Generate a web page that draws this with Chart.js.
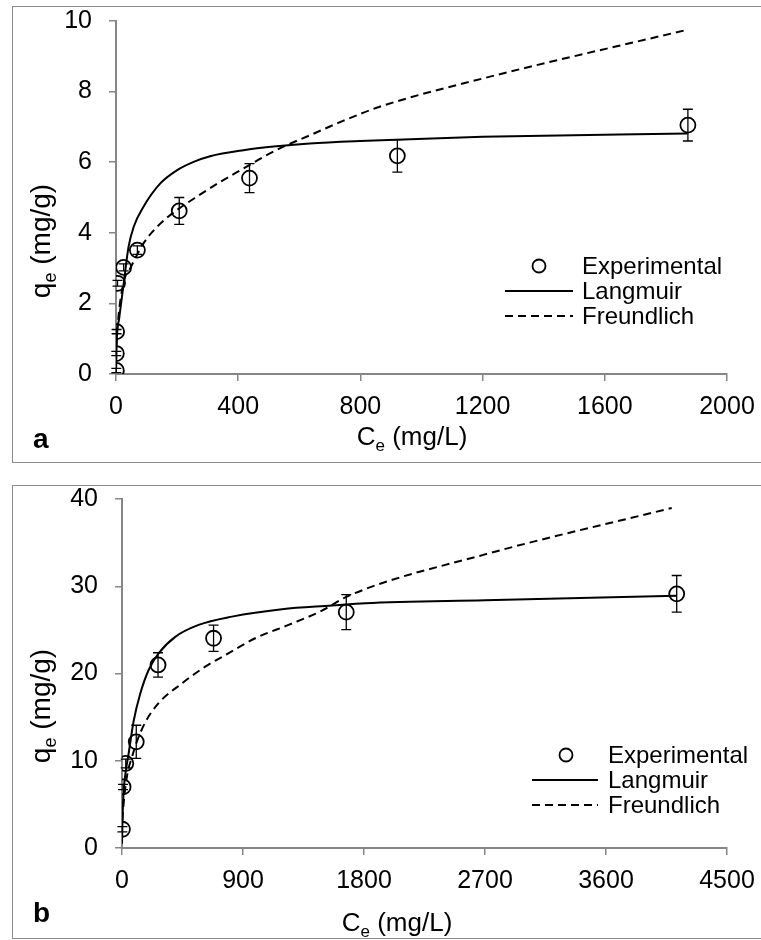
<!DOCTYPE html>
<html><head><meta charset="utf-8">
<script src="https://cdn.jsdelivr.net/npm/chart.js@4/dist/chart.umd.min.js"></script>
<style>
html,body{margin:0;padding:0;background:#fff;width:761px;height:940px;overflow:hidden;}
.wrap{position:absolute;left:0;width:761px;height:470px;}
.box{position:absolute;border:1.5px solid #8c8c8c;box-sizing:border-box;pointer-events:none;}
</style></head><body>
<div class="wrap" style="top:0"><canvas id="ca"></canvas></div>
<div class="wrap" style="top:470px"><canvas id="cb"></canvas></div>
<div class="box" style="left:12px;top:6px;width:752px;height:457px"></div>
<div class="box" style="left:12px;top:485px;width:752px;height:454px"></div>
<script>
// ---------- data ----------
const seriesNames = ['Experimental', 'Langmuir', 'Freundlich'];

// panel a
const xTicksA = [0, 400, 800, 1200, 1600, 2000];
const yTicksA = [0, 2, 4, 6, 8, 10];
const expA_C   = [1, 1, 2, 5, 25, 70, 207, 437, 921, 1872];
const expA_q   = [0.1, 0.58, 1.2, 2.57, 3.02, 3.51, 4.62, 5.55, 6.18, 7.05];
const expA_err = [0.06, 0.06, 0.06, 0.08, 0.1, 0.12, 0.38, 0.41, 0.46, 0.45];
const langA_C  = [0.3, 3, 10, 25, 41, 58, 90, 145, 199, 254, 308, 417, 526, 634, 798, 1200, 1870];
const langA_q  = [0.15, 1.06, 1.55, 2.55, 3.6, 4.17, 4.74, 5.4, 5.77, 6.01, 6.17, 6.34, 6.45, 6.53, 6.6, 6.72, 6.81];
const freA_C   = [1, 5, 25, 47, 90, 145, 199, 264, 341, 417, 493, 558, 634, 743, 863, 1200, 1864];
const freA_q   = [0.8, 1.35, 2.6, 3.0, 3.7, 4.26, 4.64, 5.02, 5.44, 5.82, 6.2, 6.48, 6.76, 7.17, 7.57, 8.37, 9.74];

// panel b
const xTicksB = [0, 900, 1800, 2700, 3600, 4500];
const yTicksB = [0, 10, 20, 30, 40];
const expB_C   = [3, 8, 28, 106, 268, 681, 1668, 4126];
const expB_q   = [2.15, 7.0, 9.69, 12.17, 20.98, 24.04, 27.03, 29.13];
const expB_err = [0.3, 0.3, 0.5, 1.9, 1.4, 1.5, 2.0, 2.1];
const langB_C  = [0, 5, 15, 30, 49, 86, 136, 198, 272, 396, 570, 818, 1190, 1561, 1809, 2700, 4126];
const langB_q  = [0.5, 4.0, 7.0, 9.0, 10.8, 14.5, 17.7, 20.4, 22.3, 24.2, 25.57, 26.52, 27.37, 27.79, 28.06, 28.4, 28.9];
const freB_C   = [3, 12, 40, 74, 106, 173, 272, 446, 619, 768, 991, 1239, 1487, 1685, 2688, 4089];
const freB_q   = [3.2, 5.1, 8.5, 10.4, 12.0, 14.4, 16.6, 18.87, 20.78, 22.1, 24.04, 25.57, 27.2, 28.9, 33.6, 38.97];

// ---------- helpers ----------
const FONT = "'Liberation Sans', Arial, Helvetica, sans-serif";
const pts = (xs, ys) => xs.map((x, i) => ({x: x, y: ys[i]}));

function drawRich(ctx, x, y, main, sub, rest, size, align) {
  const subSize = Math.round(size * 0.65);
  ctx.font = size + 'px ' + FONT;
  const w1 = ctx.measureText(main).width;
  const w3 = ctx.measureText(rest).width;
  ctx.font = subSize + 'px ' + FONT;
  const w2 = ctx.measureText(sub).width;
  const total = w1 + w2 + w3;
  let sx = align === 'center' ? x - total / 2 : x;
  ctx.textAlign = 'left';
  ctx.textBaseline = 'alphabetic';
  ctx.fillStyle = '#000';
  ctx.font = size + 'px ' + FONT;
  ctx.fillText(main, sx, y);
  ctx.font = subSize + 'px ' + FONT;
  ctx.fillText(sub, sx + w1, y + size * 0.22);
  ctx.font = size + 'px ' + FONT;
  ctx.fillText(rest, sx + w1 + w2, y);
}

const decorPlugin = {
  id: 'decor',
  afterDatasetsDraw(chart, args, o) {
    const ctx = chart.ctx;
    const xs = chart.scales.x, ys = chart.scales.y;
    ctx.save();
    ctx.strokeStyle = '#000';
    ctx.lineWidth = 1.3;
    o.errX.forEach((cx, i) => {
      const px = xs.getPixelForValue(cx);
      const top = ys.getPixelForValue(o.errY[i] + o.err[i]);
      const bot = ys.getPixelForValue(o.errY[i] - o.err[i]);
      ctx.beginPath();
      ctx.moveTo(px, top); ctx.lineTo(px, bot);
      ctx.moveTo(px - 5, top); ctx.lineTo(px + 5, top);
      ctx.moveTo(px - 5, bot); ctx.lineTo(px + 5, bot);
      ctx.stroke();
    });
    ctx.restore();
  },
  afterDraw(chart, args, o) {
    const ctx = chart.ctx;
    ctx.save();
    ctx.translate(o.yTitle[0], o.yTitle[1]);
    ctx.rotate(-Math.PI / 2);
    drawRich(ctx, 0, 10, 'q', 'e', ' (mg/g)', 28, 'center');
    ctx.restore();
    ctx.save();
    drawRich(ctx, o.xTitle[0], o.xTitle[1], 'C', 'e', ' (mg/L)', 26, 'center');
    ctx.font = 'bold 28px ' + FONT;
    ctx.fillStyle = '#000';
    ctx.textAlign = 'left';
    ctx.textBaseline = 'alphabetic';
    ctx.fillText(o.letter, o.letterPos[0], o.letterPos[1]);
    const L = o.legend;
    const ds = chart.data.datasets;
    ctx.font = '24px ' + FONT;
    ctx.textBaseline = 'middle';
    ds.forEach((d, i) => {
      const yy = L.y + i * L.dy;
      ctx.fillText(d.label, L.textX, yy + 1);
      ctx.strokeStyle = '#000';
      if (i === 0) {
        ctx.lineWidth = 1.8;
        ctx.setLineDash([]);
        ctx.beginPath();
        ctx.arc(L.markX, yy, 6.5, 0, Math.PI * 2);
        ctx.stroke();
      } else {
        ctx.lineWidth = 2;
        ctx.setLineDash(d.borderDash || []);
        ctx.beginPath();
        ctx.moveTo(L.lineX0, yy); ctx.lineTo(L.lineX1, yy);
        ctx.stroke();
      }
    });
    ctx.restore();
  }
};

function axis(ticksArr, fit, pad) {
  return {
    type: 'linear',
    min: ticksArr[0],
    max: ticksArr[ticksArr.length - 1],
    afterBuildTicks: s => { s.ticks = ticksArr.map(v => ({value: v})); },
    afterFit: fit,
    ticks: {
      color: '#000', padding: pad, autoSkip: false, maxRotation: 0,
      font: {family: FONT, size: 25},
      callback: v => String(v)
    },
    grid: {drawOnChartArea: false, drawTicks: true, tickLength: 7, color: '#868686', lineWidth: 1.5},
    border: {display: true, color: '#868686', width: 2}
  };
}

function makeChart(id, d) {
  return new Chart(document.getElementById(id), {
    type: 'scatter',
    data: {
      datasets: [
        {label: seriesNames[0], data: pts(d.eC, d.eq), showLine: false,
         pointStyle: 'circle', pointRadius: 7.5, pointBorderWidth: 1.8,
         pointBorderColor: '#000', pointBackgroundColor: 'rgba(0,0,0,0)', borderColor: '#000'},
        {label: seriesNames[1], data: pts(d.lC, d.lq), showLine: true, pointRadius: 0,
         borderColor: '#000', borderWidth: 2, cubicInterpolationMode: 'monotone', fill: false},
        {label: seriesNames[2], data: pts(d.fC, d.fq), showLine: true, pointRadius: 0,
         borderColor: '#000', borderWidth: 2, borderDash: [8, 5], cubicInterpolationMode: 'monotone', fill: false}
      ]
    },
    options: {
      responsive: true, maintainAspectRatio: false, animation: false, devicePixelRatio: 1,
      layout: {padding: {left: 0, right: 34, top: d.padTop, bottom: 0}},
      scales: {
        x: axis(d.xt, s => { s.height = d.xh; s.paddingLeft = 0; s.paddingRight = 0; }, 11),
        y: axis(d.yt, s => { s.width = d.yw; s.paddingTop = 0; s.paddingBottom = 0; }, 17)
      },
      plugins: {
        legend: {display: false}, tooltip: {enabled: false},
        decor: {
          errX: d.eC, errY: d.eq, err: d.err,
          yTitle: d.yTitle, xTitle: d.xTitle, letter: d.letter, letterPos: d.letterPos,
          legend: d.legend
        }
      }
    },
    plugins: [decorPlugin]
  });
}

makeChart('ca', {
  eC: expA_C, eq: expA_q, err: expA_err, lC: langA_C, lq: langA_q, fC: freA_C, fq: freA_q,
  xt: xTicksA, yt: yTicksA, padTop: 21, xh: 96, yw: 116,
  yTitle: [40, 241], xTitle: [412, 445], letter: 'a', letterPos: [33, 448],
  legend: {y: 266, dy: 25, textX: 582, markX: 539, lineX0: 505, lineX1: 573}
});
makeChart('cb', {
  eC: expB_C, eq: expB_q, err: expB_err, lC: langB_C, lq: langB_q, fC: freB_C, fq: freB_q,
  xt: xTicksB, yt: yTicksB, padTop: 29, xh: 92, yw: 122,
  yTitle: [40, 236], xTitle: [397, 461], letter: 'b', letterPos: [33, 452],
  legend: {y: 285, dy: 25, textX: 608, markX: 566, lineX0: 532, lineX1: 598}
});
</script>
</body></html>
